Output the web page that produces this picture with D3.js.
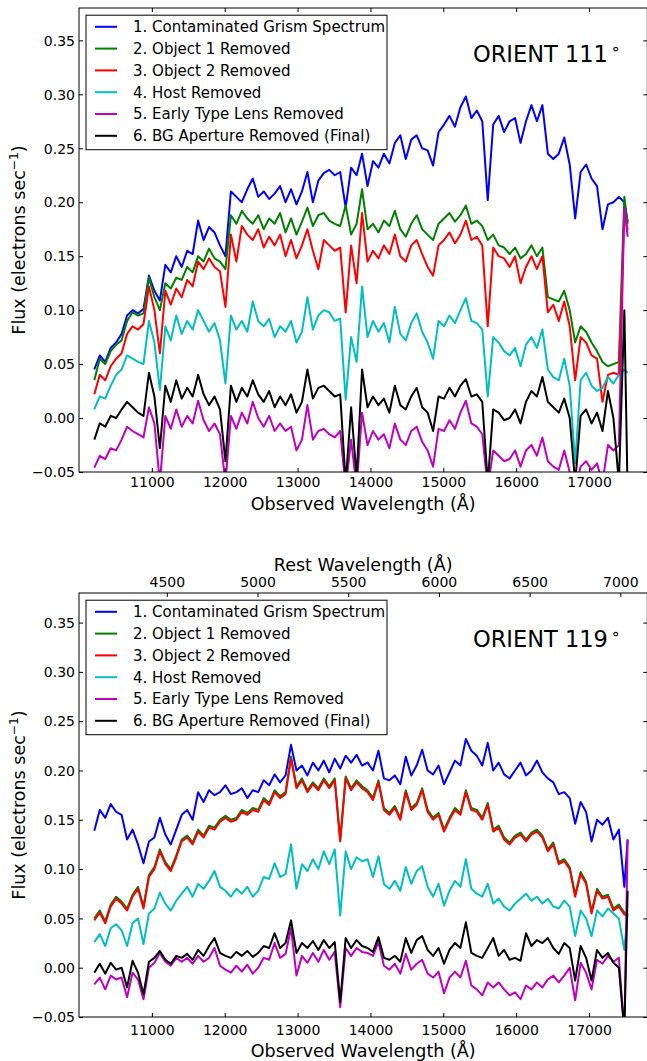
<!DOCTYPE html>
<html>
<head>
<meta charset="utf-8">
<script src="https://cdn.jsdelivr.net/npm/d3@7/dist/d3.min.js"></script>
<style>
  html, body { margin: 0; padding: 0; background: #fff; }
  svg { display: block; }
  text { font-family: "DejaVu Sans", "Liberation Sans", sans-serif; fill: #000; }
</style>
</head>
<body>
<svg id="chart" width="647" height="1061"></svg>
<script>
// Observed-frame wavelength grid of the extracted grism spectra (Angstrom)
const wavelength = [
  10210,10285,10360,10435,10510,10585,10660,10735,10810,10885,
  10960,11035,11110,11185,11260,11335,11410,11485,11560,11635,
  11710,11785,11860,11935,12010,12085,12160,12235,12310,12385,
  12460,12535,12610,12685,12760,12835,12910,12985,13060,13135,
  13210,13285,13360,13435,13510,13585,13660,13735,13810,13885,
  13960,14035,14110,14185,14260,14335,14410,14485,14560,14635,
  14710,14785,14860,14935,15010,15085,15160,15235,15310,15385,
  15460,15535,15610,15685,15760,15835,15910,15985,16060,16135,
  16210,16285,16360,16435,16510,16585,16660,16735,16810,16885,
  16960,17035,17110,17185,17260,17335,17410,17485,17530
];

// ---- ORIENT 111 : flux after each subtraction step (electrons / s) ----
const o111Contaminated = [
  0.045,0.058,0.052,0.065,0.070,0.078,0.095,0.100,0.097,0.101,
  0.132,0.118,0.109,0.142,0.135,0.150,0.140,0.155,0.152,0.183,
  0.165,0.177,0.172,0.160,0.150,0.210,0.205,0.200,0.212,0.222,
  0.205,0.210,0.203,0.208,0.215,0.200,0.212,0.198,0.210,0.228,
  0.200,0.220,0.227,0.230,0.225,0.228,0.195,0.232,0.225,0.245,
  0.215,0.238,0.232,0.245,0.236,0.255,0.262,0.240,0.258,0.262,
  0.250,0.248,0.234,0.265,0.272,0.280,0.270,0.288,0.298,0.278,
  0.285,0.275,0.202,0.272,0.280,0.265,0.275,0.278,0.255,0.275,
  0.290,0.275,0.290,0.245,0.240,0.245,0.260,0.235,0.185,0.228,
  0.235,0.222,0.215,0.175,0.198,0.200,0.205,0.200,0.182
];
const o111Object1Removed = [
  0.035,0.055,0.050,0.062,0.068,0.072,0.090,0.098,0.095,0.097,
  0.130,0.112,0.100,0.125,0.120,0.130,0.128,0.140,0.135,0.150,
  0.145,0.157,0.148,0.145,0.138,0.188,0.180,0.192,0.185,0.180,
  0.188,0.175,0.185,0.180,0.190,0.172,0.185,0.170,0.182,0.195,
  0.178,0.188,0.190,0.183,0.180,0.178,0.197,0.170,0.180,0.212,
  0.175,0.180,0.172,0.183,0.178,0.192,0.175,0.168,0.180,0.188,
  0.175,0.170,0.165,0.180,0.185,0.190,0.182,0.188,0.197,0.180,
  0.183,0.178,0.165,0.170,0.160,0.158,0.152,0.158,0.148,0.152,
  0.160,0.150,0.158,0.112,0.110,0.108,0.118,0.100,0.070,0.085,
  0.080,0.070,0.062,0.052,0.048,0.050,0.052,0.205,0.180
];
const o111Object2Removed = [
  0.022,0.040,0.035,0.048,0.055,0.060,0.078,0.085,0.082,0.087,
  0.122,0.100,0.060,0.118,0.105,0.120,0.112,0.128,0.122,0.145,
  0.138,0.148,0.140,0.136,0.103,0.170,0.145,0.178,0.170,0.165,
  0.175,0.158,0.168,0.160,0.170,0.150,0.165,0.148,0.160,0.175,
  0.155,0.138,0.165,0.160,0.155,0.158,0.098,0.160,0.125,0.190,
  0.145,0.155,0.148,0.160,0.152,0.170,0.150,0.145,0.160,0.165,
  0.152,0.140,0.132,0.160,0.165,0.172,0.162,0.170,0.183,0.165,
  0.168,0.160,0.085,0.158,0.150,0.148,0.140,0.150,0.125,0.140,
  0.150,0.138,0.150,0.098,0.105,0.090,0.108,0.085,0.035,0.075,
  0.070,0.058,0.055,0.015,0.040,0.042,0.040,0.192,0.174
];
const o111HostRemoved = [
  0.008,0.020,0.018,0.030,0.040,0.045,0.058,0.055,0.052,0.050,
  0.090,0.070,0.026,0.085,0.072,0.095,0.078,0.090,0.082,0.100,
  0.090,0.080,0.088,0.072,0.032,0.095,0.082,0.090,0.080,0.108,
  0.090,0.085,0.092,0.075,0.085,0.080,0.090,0.070,0.080,0.112,
  0.082,0.095,0.100,0.098,0.090,0.092,0.017,0.075,0.052,0.122,
  0.075,0.090,0.080,0.088,0.070,0.103,0.078,0.072,0.088,0.097,
  0.080,0.070,0.055,0.090,0.085,0.095,0.088,0.100,0.111,0.090,
  0.088,0.082,0.020,0.075,0.070,0.062,0.058,0.065,0.048,0.068,
  0.075,0.065,0.082,0.045,0.038,0.035,0.055,0.030,-0.042,0.035,
  0.042,0.030,0.025,0.028,0.038,0.032,0.040,0.045,0.042
];
const o111LensRemoved = [
  -0.046,-0.035,-0.038,-0.028,-0.030,-0.020,-0.008,-0.012,-0.015,-0.018,
  0.010,-0.005,-0.060,0.002,-0.010,0.008,-0.008,0.002,-0.005,0.016,
  -0.002,-0.012,-0.005,-0.015,-0.060,0.002,-0.010,0.005,-0.005,0.015,
  0.000,-0.008,0.002,-0.012,-0.005,-0.012,-0.008,-0.030,-0.020,0.012,
  -0.020,-0.012,-0.010,-0.015,-0.018,-0.012,-0.065,-0.020,-0.065,0.005,
  -0.025,-0.012,-0.020,-0.015,-0.028,-0.005,-0.020,-0.025,-0.012,-0.008,
  -0.022,-0.030,-0.045,-0.010,-0.012,-0.002,-0.010,0.005,0.016,-0.005,
  -0.008,-0.015,-0.065,-0.030,-0.035,-0.040,-0.038,-0.030,-0.045,-0.030,
  -0.025,-0.035,-0.018,-0.040,-0.045,-0.048,-0.030,-0.050,-0.065,-0.045,
  -0.040,-0.048,-0.042,-0.060,-0.025,-0.030,-0.025,0.195,0.168
];
const o111Final = [
  -0.020,-0.005,-0.008,0.002,0.000,0.008,0.015,0.010,0.005,0.002,
  0.042,0.020,-0.028,0.030,0.015,0.035,0.018,0.028,0.020,0.040,
  0.022,0.012,0.020,0.008,-0.040,0.030,0.015,0.028,0.020,0.035,
  0.022,0.015,0.025,0.010,0.020,0.012,0.022,0.005,0.015,0.045,
  0.018,0.028,0.030,0.025,0.020,0.022,-0.060,0.010,-0.055,0.045,
  0.010,0.020,0.012,0.018,0.005,0.030,0.012,0.008,0.020,0.028,
  0.010,0.005,-0.012,0.020,0.018,0.028,0.020,0.030,0.036,0.020,
  0.022,0.015,-0.060,0.008,0.005,-0.002,0.000,0.008,-0.005,0.015,
  0.025,0.020,0.038,0.015,0.010,0.005,0.018,0.000,-0.060,0.002,
  0.008,-0.005,0.005,-0.012,0.025,0.000,-0.060,0.100,-0.070
];

// ---- ORIENT 119 ----
const o119Contaminated = [
  0.139,0.160,0.152,0.166,0.158,0.155,0.130,0.140,0.125,0.106,
  0.128,0.132,0.152,0.135,0.125,0.140,0.155,0.160,0.150,0.178,
  0.168,0.180,0.175,0.178,0.185,0.176,0.178,0.182,0.172,0.180,
  0.178,0.190,0.185,0.196,0.188,0.195,0.226,0.200,0.205,0.195,
  0.208,0.200,0.210,0.198,0.212,0.202,0.215,0.208,0.216,0.205,
  0.208,0.200,0.220,0.192,0.190,0.195,0.186,0.214,0.195,0.205,
  0.221,0.200,0.196,0.205,0.186,0.198,0.210,0.205,0.232,0.220,
  0.215,0.205,0.228,0.200,0.208,0.196,0.192,0.200,0.208,0.195,
  0.200,0.210,0.198,0.192,0.188,0.176,0.178,0.172,0.146,0.168,
  0.158,0.128,0.150,0.145,0.152,0.130,0.140,0.082,0.130
];
const o119Object1Removed = [
  0.050,0.058,0.047,0.064,0.072,0.067,0.060,0.074,0.082,0.062,
  0.094,0.102,0.120,0.107,0.100,0.114,0.130,0.134,0.127,0.140,
  0.134,0.144,0.142,0.150,0.154,0.150,0.152,0.160,0.157,0.162,
  0.160,0.172,0.167,0.180,0.174,0.178,0.214,0.184,0.192,0.180,
  0.188,0.182,0.192,0.184,0.192,0.130,0.194,0.182,0.190,0.184,
  0.180,0.172,0.190,0.162,0.157,0.164,0.152,0.180,0.162,0.167,
  0.182,0.160,0.152,0.157,0.140,0.152,0.162,0.157,0.180,0.162,
  0.160,0.152,0.167,0.140,0.144,0.132,0.127,0.134,0.137,0.130,
  0.137,0.140,0.134,0.120,0.127,0.107,0.110,0.102,0.074,0.097,
  0.087,0.057,0.080,0.072,0.074,0.060,0.064,0.056,0.054
];
const o119Object2Removed = [
  0.048,0.056,0.045,0.062,0.070,0.065,0.058,0.072,0.080,0.060,
  0.092,0.100,0.118,0.105,0.098,0.112,0.128,0.132,0.125,0.138,
  0.132,0.142,0.140,0.148,0.152,0.148,0.150,0.158,0.155,0.160,
  0.158,0.170,0.165,0.178,0.172,0.176,0.212,0.182,0.190,0.178,
  0.186,0.180,0.190,0.182,0.190,0.128,0.192,0.180,0.188,0.182,
  0.178,0.170,0.188,0.160,0.155,0.162,0.150,0.178,0.160,0.165,
  0.180,0.158,0.150,0.155,0.138,0.150,0.160,0.155,0.178,0.160,
  0.158,0.150,0.165,0.138,0.142,0.130,0.125,0.132,0.135,0.128,
  0.135,0.138,0.132,0.118,0.125,0.105,0.108,0.100,0.072,0.095,
  0.085,0.055,0.078,0.070,0.072,0.058,0.062,0.054,0.052
];
const o119HostRemoved = [
  0.026,0.034,0.022,0.040,0.044,0.038,0.022,0.045,0.050,0.024,
  0.055,0.060,0.076,0.065,0.058,0.068,0.075,0.082,0.072,0.085,
  0.080,0.088,0.098,0.082,0.078,0.072,0.080,0.075,0.082,0.072,
  0.078,0.092,0.090,0.106,0.092,0.095,0.125,0.080,0.105,0.098,
  0.110,0.100,0.118,0.105,0.120,0.053,0.118,0.100,0.112,0.108,
  0.110,0.092,0.113,0.085,0.080,0.088,0.078,0.102,0.085,0.098,
  0.103,0.082,0.072,0.085,0.063,0.078,0.088,0.082,0.110,0.080,
  0.075,0.072,0.085,0.065,0.070,0.062,0.058,0.065,0.070,0.075,
  0.068,0.072,0.065,0.070,0.062,0.060,0.068,0.062,0.032,0.058,
  0.050,0.032,0.058,0.052,0.060,0.055,0.050,0.018,0.055
];
const o119LensRemoved = [
  -0.017,-0.010,-0.022,-0.008,-0.012,-0.010,-0.030,-0.005,-0.012,-0.032,
  0.000,0.005,0.015,0.006,0.002,0.010,0.006,0.010,0.004,0.012,
  0.006,0.010,0.020,0.002,-0.002,-0.005,0.002,-0.004,0.003,-0.006,
  0.000,0.010,0.008,0.025,0.010,0.014,0.040,-0.008,0.012,0.005,
  0.015,0.006,0.018,0.008,0.016,-0.040,0.020,0.012,0.020,0.016,
  0.015,0.012,0.026,0.002,-0.002,0.004,-0.006,0.014,-0.002,0.004,
  0.008,-0.006,-0.010,-0.004,-0.026,-0.010,-0.004,-0.010,0.007,-0.018,
  -0.022,-0.028,-0.015,-0.020,-0.015,-0.022,-0.028,-0.025,-0.032,-0.018,
  -0.022,-0.015,-0.020,-0.012,-0.008,-0.015,-0.008,0.000,-0.033,0.005,
  -0.005,-0.022,0.008,0.004,0.012,0.006,0.010,-0.065,0.130
];
const o119Final = [
  -0.005,0.004,-0.006,0.005,-0.002,0.000,-0.020,0.007,-0.005,-0.027,
  0.006,0.010,0.017,0.008,0.004,0.012,0.010,0.014,0.008,0.018,
  0.012,0.022,0.030,0.015,0.012,0.010,0.016,0.012,0.017,0.011,
  0.015,0.022,0.020,0.035,0.020,0.025,0.048,0.015,0.025,0.020,
  0.027,0.018,0.028,0.020,0.026,-0.035,0.030,0.020,0.028,0.022,
  0.020,0.016,0.031,0.010,0.008,0.012,0.006,0.030,0.015,0.028,
  0.032,0.018,0.012,0.020,0.004,0.018,0.025,0.020,0.046,0.015,
  0.012,0.010,0.020,0.030,0.012,0.018,0.008,0.010,0.007,0.035,
  0.022,0.028,0.025,0.030,0.020,0.014,0.025,0.020,-0.013,0.022,
  0.010,-0.013,0.018,0.010,0.015,0.005,0.000,-0.065,0.078
];

// Axis ticks and labels
const redshift = 1.49;
const observedTicks = [11000, 12000, 13000, 14000, 15000, 16000, 17000];
const restTicks = [4500, 5000, 5500, 6000, 6500, 7000];
const fluxTicks = [-0.05, 0.00, 0.05, 0.10, 0.15, 0.20, 0.25, 0.30, 0.35];
const stepLabels = [
  "1. Contaminated Grism Spectrum",
  "2. Object 1 Removed",
  "3. Object 2 Removed",
  "4. Host Removed",
  "5. Early Type Lens Removed",
  "6. BG Aperture Removed (Final)"
];
const stepColors = ["#0000ff", "#008000", "#ff0000", "#00bfbf", "#bf00bf", "#000000"];

const svg = d3.select("#chart");
const defs = svg.append("defs");
const X0 = 79, X1 = 647.3;
const wlDomain = [10000, 17800];
const fluxDomain = [-0.05, 0.38];

function styleAxis(sel) {
  sel.select(".domain").remove();
  sel.attr("font-family", null).attr("font-size", null);
  sel.selectAll(".tick line").attr("stroke", "#000").attr("stroke-width", 1);
  sel.selectAll(".tick text").attr("font-size", 14).attr("fill", "#000");
}

function drawPanel(p) {
  const x = d3.scaleLinear().domain(wlDomain).range([X0, X1]);
  const y = d3.scaleLinear().domain(fluxDomain).range([p.bottom, p.top]);
  const g = svg.append("g").attr("class", "panel-" + p.id);

  const clipId = "clip-" + p.id;
  defs.append("clipPath").attr("id", clipId)
    .append("rect")
    .attr("x", X0).attr("y", p.top)
    .attr("width", X1 - X0).attr("height", p.bottom - p.top);

  // spectra, drawn in subtraction order so the final spectrum sits on top
  const line = d3.line().x((d, i) => x(wavelength[i])).y(d => y(d));
  const lines = g.append("g").attr("clip-path", `url(#${clipId})`);
  p.series.forEach((s, k) => {
    lines.append("path")
      .attr("d", line(s))
      .attr("fill", "none")
      .attr("stroke", stepColors[k])
      .attr("stroke-width", 2)
      .attr("stroke-linejoin", "round");
  });

  // bottom axis (observed wavelength)
  g.append("g")
    .attr("transform", `translate(0,${p.bottom})`)
    .call(d3.axisBottom(x).tickValues(observedTicks).tickSize(-4).tickSizeOuter(0)
      .tickFormat(d3.format("d")))
    .call(styleAxis)
    .call(a => a.selectAll(".tick text").attr("y", p.tickLabelOffset).attr("dy", null));

  // left axis (flux)
  g.append("g")
    .attr("transform", `translate(${X0},0)`)
    .call(d3.axisLeft(y).tickValues(fluxTicks).tickSize(-4).tickSizeOuter(0).tickPadding(4)
      .tickFormat(d3.format(".2f")))
    .call(styleAxis)
    .call(a => a.selectAll(".tick text").attr("dy", "0.34em"));

  // right axis, ticks only
  g.append("g")
    .attr("transform", `translate(${X1},0)`)
    .call(d3.axisRight(y).tickValues(fluxTicks).tickSize(-4).tickSizeOuter(0).tickFormat(() => ""))
    .call(styleAxis);

  // top axis: plain ticks, or the rest-frame scale
  if (p.restAxis) {
    const xr = d3.scaleLinear().domain(wlDomain.map(w => w / (1 + redshift))).range([X0, X1]);
    g.append("g")
      .attr("transform", `translate(0,${p.top})`)
      .call(d3.axisTop(xr).tickValues(restTicks).tickSize(-4).tickSizeOuter(0)
        .tickFormat(d3.format("d")))
      .call(styleAxis)
      .call(a => a.selectAll(".tick text").attr("y", -6).attr("dy", null));
    g.append("text")
      .attr("x", (X0 + X1) / 2).attr("y", p.top - 22.3)
      .attr("text-anchor", "middle").attr("font-size", 17.5)
      .text("Rest Wavelength (Å)");
  } else {
    g.append("g")
      .attr("transform", `translate(0,${p.top})`)
      .call(d3.axisTop(x).tickValues(observedTicks).tickSize(-4).tickSizeOuter(0).tickFormat(() => ""))
      .call(styleAxis);
  }

  // frame
  g.append("rect")
    .attr("x", X0).attr("y", p.top)
    .attr("width", X1 - X0).attr("height", p.bottom - p.top)
    .attr("fill", "none").attr("stroke", "#000").attr("stroke-width", 1);

  // axis titles
  g.append("text")
    .attr("x", (X0 + X1) / 2).attr("y", p.xlabelBaseline)
    .attr("text-anchor", "middle").attr("font-size", 17.5)
    .text("Observed Wavelength (Å)");

  const yl = g.append("text")
    .attr("transform", `translate(25,${(p.top + p.bottom) / 2}) rotate(-90)`)
    .attr("text-anchor", "middle").attr("font-size", 17.5);
  yl.append("tspan").text("Flux (electrons sec");
  yl.append("tspan").attr("dy", -7).attr("font-size", 12.25).text("−1");
  yl.append("tspan").attr("dy", 7).text(")");

  // orientation label
  const ot = g.append("text")
    .attr("x", 473).attr("y", p.top + 53.5)
    .attr("font-size", 22.5)
    .text(p.orient);
  ot.append("tspan").attr("dx", 3).attr("dy", -7.5).attr("font-size", 15.75).text("∘");

  // legend
  const lg = g.append("g");
  const legendTop = p.top + 7.2;
  lg.append("rect")
    .attr("x", 86).attr("y", legendTop)
    .attr("width", 301).attr("height", 134.5)
    .attr("fill", "#fff").attr("stroke", "#000").attr("stroke-width", 1);
  stepLabels.forEach((label, k) => {
    const cy = legendTop + 11.6 + k * 21.8;
    lg.append("line")
      .attr("x1", 95).attr("x2", 117).attr("y1", cy).attr("y2", cy)
      .attr("stroke", stepColors[k]).attr("stroke-width", 2);
    lg.append("text")
      .attr("x", 133).attr("y", cy).attr("dy", "0.36em")
      .attr("font-size", 15)
      .text(label);
  });
}

drawPanel({
  id: "o111", top: 8, bottom: 472, orient: "ORIENT 111",
  restAxis: false, tickLabelOffset: 15, xlabelBaseline: 510,
  series: [o111Contaminated, o111Object1Removed, o111Object2Removed,
           o111HostRemoved, o111LensRemoved, o111Final]
});
drawPanel({
  id: "o119", top: 593, bottom: 1017, orient: "ORIENT 119",
  restAxis: true, tickLabelOffset: 18, xlabelBaseline: 1056.5,
  series: [o119Contaminated, o119Object1Removed, o119Object2Removed,
           o119HostRemoved, o119LensRemoved, o119Final]
});
</script>
</body>
</html>
